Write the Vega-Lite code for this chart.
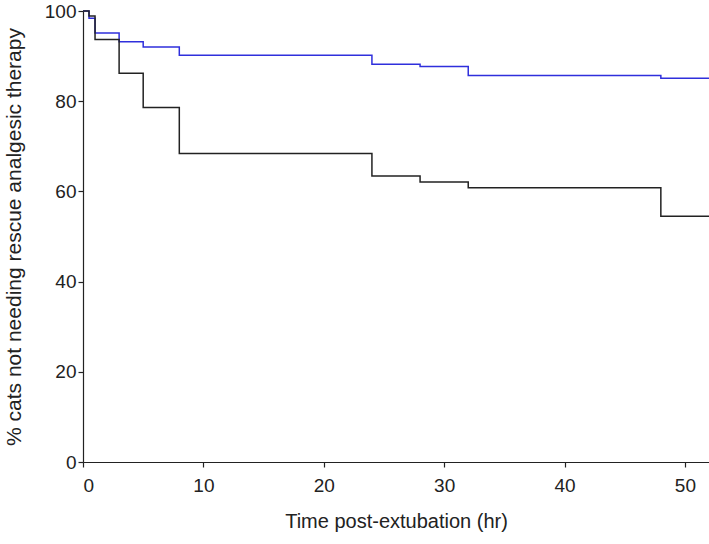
{
  "$schema": "https://vega.github.io/schema/vega-lite/v6.json",
  "autosize": {"type": "none"},
  "padding": {"left": 83, "top": 11, "right": 0, "bottom": 82},
  "width": 626,
  "height": 451,
  "background": "white",
  "config": {
    "view": {"stroke": null},
    "font": "Liberation Sans",
    "axis": {
      "grid": false,
      "domainColor": "#222222",
      "tickColor": "#222222",
      "domainWidth": 1.2,
      "tickWidth": 1.2,
      "tickSize": 5,
      "labelColor": "#222222",
      "titleColor": "#222222",
      "labelFontSize": 19,
      "titleFontSize": 20,
      "titleFontWeight": "normal",
      "labelFont": "Liberation Sans",
      "titleFont": "Liberation Sans"
    }
  },
  "data": {
    "values": [
      {"group": "A", "time": 0, "pct": 100},
      {"group": "A", "time": 0.5, "pct": 98.4},
      {"group": "A", "time": 1, "pct": 95.1},
      {"group": "A", "time": 3, "pct": 93.2},
      {"group": "A", "time": 5, "pct": 92.0},
      {"group": "A", "time": 8, "pct": 90.2},
      {"group": "A", "time": 24, "pct": 88.2},
      {"group": "A", "time": 28, "pct": 87.7},
      {"group": "A", "time": 32, "pct": 85.7},
      {"group": "A", "time": 48, "pct": 85.1},
      {"group": "A", "time": 52, "pct": 85.1},
      {"group": "B", "time": 0, "pct": 100},
      {"group": "B", "time": 0.5, "pct": 98.9},
      {"group": "B", "time": 1, "pct": 93.7},
      {"group": "B", "time": 3, "pct": 86.2},
      {"group": "B", "time": 5, "pct": 78.6},
      {"group": "B", "time": 8, "pct": 68.4},
      {"group": "B", "time": 24, "pct": 63.4},
      {"group": "B", "time": 28, "pct": 62.1},
      {"group": "B", "time": 32, "pct": 60.8},
      {"group": "B", "time": 48, "pct": 54.5},
      {"group": "B", "time": 52, "pct": 54.5}
    ]
  },
  "mark": {"type": "line", "interpolate": "step-after", "strokeWidth": 1.5, "clip": false},
  "encoding": {
    "x": {
      "field": "time",
      "type": "quantitative",
      "scale": {"domain": [0, 52], "nice": false, "zero": false},
      "axis": {"values": [0, 10, 20, 30, 40, 50], "labelPadding": 9, "titlePadding": 16, "title": "Time post-extubation (hr)"}
    },
    "y": {
      "field": "pct",
      "type": "quantitative",
      "scale": {"domain": [0, 100], "nice": false},
      "axis": {"values": [0, 20, 40, 60, 80, 100], "labelPadding": 2, "titlePadding": 20, "titleFontSize": 21, "title": "% cats not needing rescue analgesic therapy"}
    },
    "color": {
      "field": "group",
      "type": "nominal",
      "scale": {"domain": ["A", "B"], "range": ["#2f2fdc", "#222222"]},
      "legend": null
    }
  }
}
